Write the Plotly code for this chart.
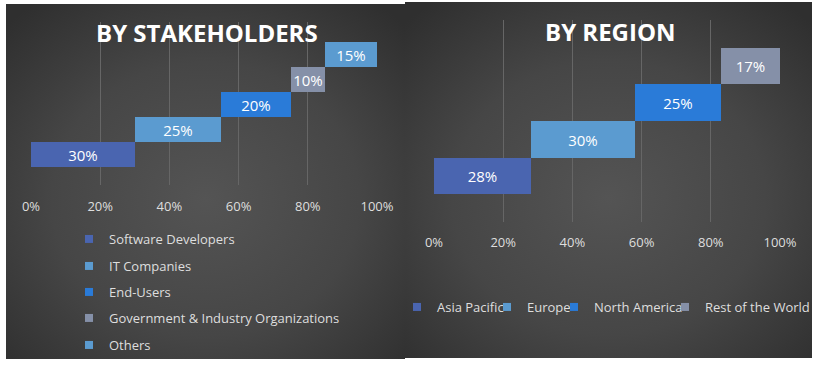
import base64
import plotly.graph_objects as go

# ---------------- data ----------------
stake_names = ["Software Developers", "IT Companies", "End-Users",
               "Government & Industry Organizations", "Others"]
stake_values = [30, 25, 20, 10, 15]

region_names = ["Asia Pacific", "Europe", "North America", "Rest of the World"]
region_values = [28, 30, 25, 17]

tick_vals = [0, 0.2, 0.4, 0.6, 0.8, 1.0]
tick_text = ["0%", "20%", "40%", "60%", "80%", "100%"]

stake_colors = ["#4a65b0", "#5b9bd0", "#2a7bd8", "#8590a8", "#5b9bd0"]
region_colors = ["#4a65b0", "#5b9bd0", "#2a7bd8", "#8590a8"]

W, H = 815, 365
FONT = "Open Sans"


def fx(px):
    return px / W


def fy(py):
    return 1 - py / H


def bg_svg():
    svg = (
        '<svg xmlns="http://www.w3.org/2000/svg" width="400" height="360" '
        'viewBox="0 0 400 360" preserveAspectRatio="none">'
        '<defs><radialGradient id="g" cx="50%" cy="55%" r="70%">'
        '<stop offset="0" stop-color="#545454"/>'
        '<stop offset="0.55" stop-color="#464646"/>'
        '<stop offset="1" stop-color="#2f2f2f"/>'
        '</radialGradient></defs>'
        '<rect width="400" height="360" fill="url(#g)"/></svg>'
    )
    return "data:image/svg+xml;base64," + base64.b64encode(svg.encode()).decode()


fig = go.Figure()


def cum_bases(vals):
    out, s = [], 0
    for v in vals:
        out.append(s / 100)
        s += v
    return out


# stakeholders bars
for i, (n, v, b, c) in enumerate(zip(stake_names, stake_values,
                                     cum_bases(stake_values), stake_colors)):
    fig.add_trace(go.Bar(
        orientation="h", x=[v / 100], y=[i], base=[b], width=1,
        marker=dict(color=c, line=dict(width=0)),
        text=[f"{v}%"], textposition="inside", insidetextanchor="middle",
        textangle=0, textfont=dict(color="white", size=15, family=FONT),
        xaxis="x", yaxis="y", showlegend=False, hoverinfo="skip"))
    fig.add_trace(go.Scatter(
        x=[None], y=[None], mode="markers", name=n,
        marker=dict(symbol="square", size=8, color=c),
        xaxis="x", yaxis="y", legend="legend" if i == 0 else f"legend{i+1}"))

# region bars
for i, (n, v, b, c) in enumerate(zip(region_names, region_values,
                                     cum_bases(region_values), region_colors)):
    fig.add_trace(go.Bar(
        orientation="h", x=[v / 100], y=[i], base=[b], width=1,
        marker=dict(color=c, line=dict(width=0)),
        text=[f"{v}%"], textposition="inside", insidetextanchor="middle",
        textangle=0, textfont=dict(color="white", size=15, family=FONT),
        xaxis="x2", yaxis="y2", showlegend=False, hoverinfo="skip"))
    fig.add_trace(go.Scatter(
        x=[None], y=[None], mode="markers", name=n,
        marker=dict(symbol="square", size=8, color=c),
        xaxis="x2", yaxis="y2", legend=f"legend{6+i}"))

axis_common = dict(
    range=[0, 1], tickvals=tick_vals, ticktext=tick_text,
    showgrid=True, gridcolor="#666666", gridwidth=1, zeroline=False,
    showline=False, ticks="", fixedrange=True, automargin=False,
    tickfont=dict(color="#dedede", size=13, family=FONT),
)

layout = dict(
    width=W, height=H,
    margin=dict(l=0, r=0, t=0, b=0, pad=0, autoexpand=False),
    paper_bgcolor="white", plot_bgcolor="rgba(0,0,0,0)",
    barmode="overlay", bargap=0,
    uniformtext=dict(minsize=15, mode="show"),
    font=dict(family=FONT, color="#dedede", size=13),
    xaxis=dict(domain=[fx(31), fx(377)], anchor="y",
               ticklabelstandoff=12, **axis_common),
    yaxis=dict(domain=[fy(185), fy(22)], range=[-1.22, 5.3], anchor="x",
               visible=False, fixedrange=True),
    xaxis2=dict(domain=[fx(434), fx(780)], anchor="y2",
                ticklabelstandoff=11, **axis_common),
    yaxis2=dict(domain=[fy(222), fy(20)], range=[-1.25, 4.25], anchor="x2",
                visible=False, fixedrange=True),
    images=[
        dict(source=bg_svg(), xref="paper", yref="paper", x=fx(6), y=fy(4),
             sizex=fx(405) - fx(6), sizey=fy(4) - fy(359), sizing="stretch",
             xanchor="left", yanchor="top", layer="below"),
        dict(source=bg_svg(), xref="paper", yref="paper", x=fx(405), y=fy(2),
             sizex=fx(812) - fx(405), sizey=fy(2) - fy(358), sizing="stretch",
             xanchor="left", yanchor="top", layer="below"),
    ],
    annotations=[
        dict(text="<b>BY STAKEHOLDERS</b>", x=fx(207), y=fy(33), xref="paper",
             yref="paper", showarrow=False, xanchor="center", yanchor="middle",
             font=dict(size=24, color="white", family=FONT)),
        dict(text="<b>BY REGION</b>", x=fx(610), y=fy(32), xref="paper",
             yref="paper", showarrow=False, xanchor="center", yanchor="middle",
             font=dict(size=24, color="white", family=FONT)),
    ],
)

leg_common = dict(bgcolor="rgba(0,0,0,0)", borderwidth=0, xanchor="left",
                  yanchor="middle", itemsizing="trace",
                  font=dict(color="#dedede", size=13, family=FONT))

stake_leg_y = [239, 266, 292, 318, 345]
for i, yy in enumerate(stake_leg_y):
    key = "legend" if i == 0 else f"legend{i+1}"
    layout[key] = dict(x=fx(104 - 40 + 5), y=fy(yy), **leg_common)

region_leg_x = [432, 522, 589, 700]
for i, xx in enumerate(region_leg_x):
    layout[f"legend{6+i}"] = dict(x=fx(xx - 40 + 5), y=fy(307), **leg_common)

fig.update_layout(**layout)
fig.write_html(
    "out.html",
    config={"displayModeBar": False},
    post_script="document.body.style.margin='0';"
                "document.body.style.overflow='hidden';",
)
